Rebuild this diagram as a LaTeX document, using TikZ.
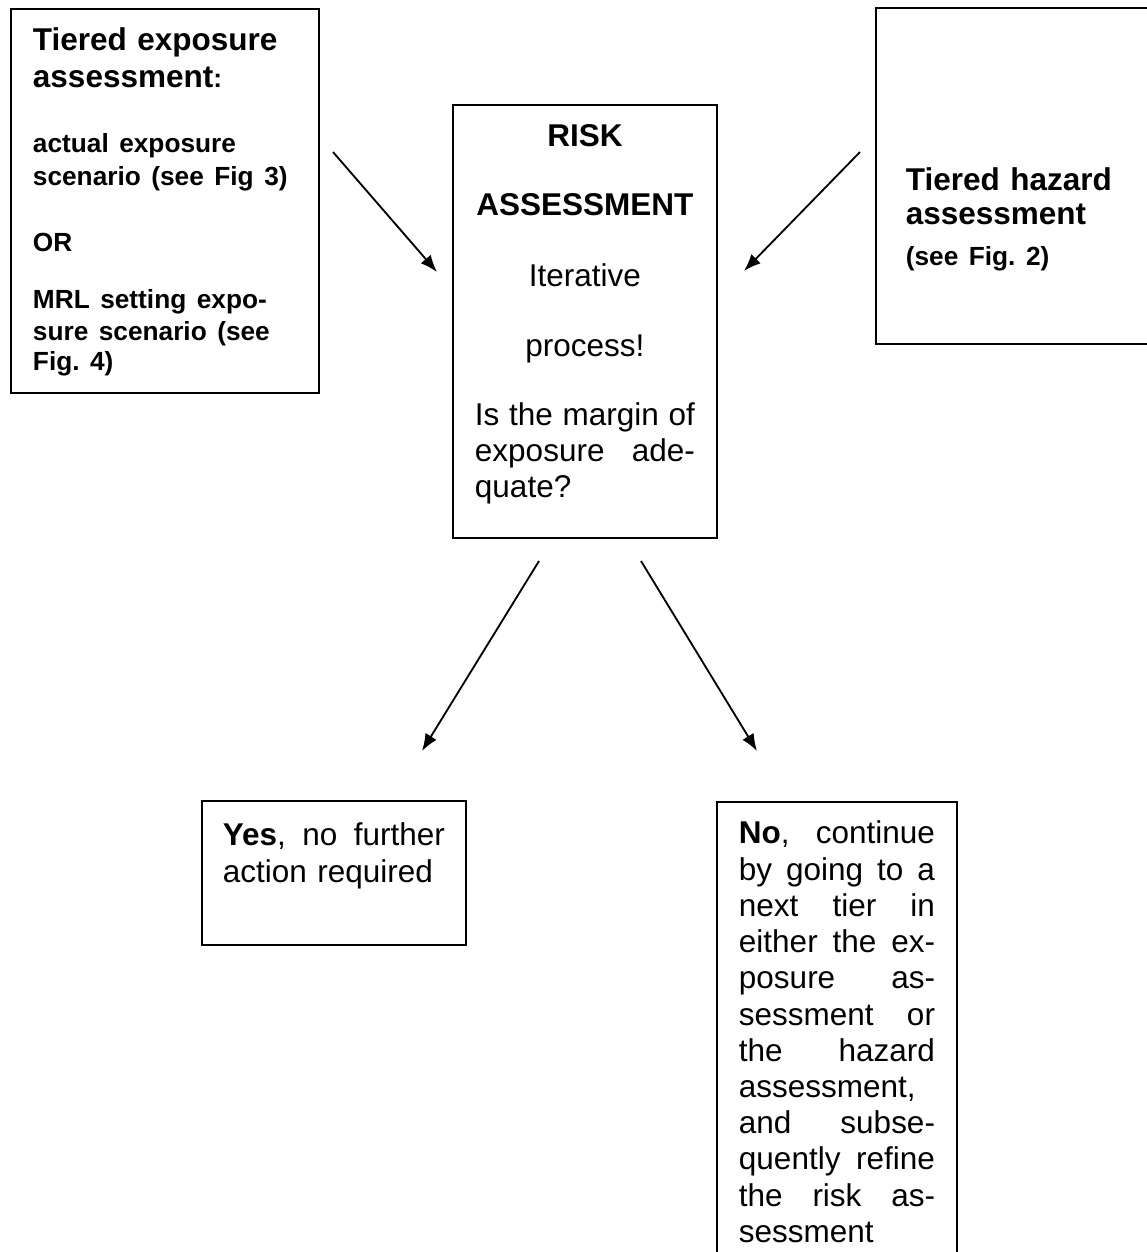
\documentclass[tikz,border=0pt]{standalone}
\usepackage{fontspec}
\setmainfont{Liberation Sans}
\usepackage{tikz}
\usetikzlibrary{shapes.geometric, arrows, arrows.meta}
\newcommand{\fillline}[1]{\makebox[\hsize][s]{\spaceskip=\fontdimen2\font plus 1fil\relax #1}}
\newcommand{\lastline}[1]{\makebox[\hsize][l]{#1}}
\newcommand{\smallbf}{\fontsize{10}{13.8}\selectfont\bfseries}
\tikzstyle{block} = [rectangle, draw, line width=0.7pt, anchor=north west, inner ysep=0pt, align=left, font=\fontsize{12}{13.8}\selectfont\frenchspacing]
\tikzstyle{line} = [draw, line width=0.7pt, ->, >={Latex[length=6.5pt,width=5pt]}]

\begin{document}
\begin{tikzpicture}[x=0.381pt, y=-0.381pt]

\useasboundingbox (0,0) rectangle (1147,1252);
\clip (0,0) rectangle (1147,1252);

\node [block, text width=100.6pt, inner xsep=8.4pt, text height=16pt, text depth=130.3pt] (E) at (10,8)
  {\textbf{Tiered exposure\\ assessment{\smallbf :}}\\[11pt]
   {\smallbf actual exposure\\[-1.2pt] scenario (see Fig 3)\\[11.3pt] OR\\[7.9pt]
    MRL setting expo-\\[-1.6pt] sure scenario (see\\[-2.2pt] Fig. 4)}};
\node [block, align=center, text width=83.8pt, inner xsep=8.4pt, text height=16pt, text depth=149pt] (R) at (452,104)
  {\textbf{RISK}\\[12.5pt] \textbf{ASSESSMENT}\\[12.9pt] Iterative\\[12.9pt] process!\\[12.5pt]
   \fillline{Is the margin of}\\ \fillline{exposure ade-}\\ \lastline{quate?}};
\node [block, text width=99pt, inner xsep=11.4pt, text height=69.7pt, text depth=58.3pt] (H) at (875,7)
  {\textbf{Tiered hazard\\[-0.8pt] assessment}\\[1.6pt] {\smallbf (see Fig. 2)}};
\node [block, text width=84.6pt, inner xsep=8pt, text height=16.8pt, text depth=38.1pt] (Y) at (201,800)
  {\fillline{\textbf{Yes}, no further}\\[0.3pt] action required};
\node [block, text width=74.7pt, inner xsep=8.4pt, text height=16pt, text depth=180pt] (N) at (716,801)
  {\fillline{\textbf{No}, continue}\\ \fillline{by going to a}\\ \fillline{next tier in}\\
   \fillline{either the ex-}\\ \fillline{posure as-}\\ \fillline{sessment or}\\
   \fillline{the hazard}\\ assessment,\\ \fillline{and subse-}\\
   \fillline{quently refine}\\ \fillline{the risk as-}\\ sessment};

\coordinate (0) at (333,152);
\coordinate (1) at (437,272);
\coordinate (2) at (860,152);
\coordinate (3) at (744,271);
\coordinate (4) at (539,561);
\coordinate (5) at (422,751);
\coordinate (6) at (641,561);
\coordinate (7) at (757,751);

\path [line] (0) -- (1);
\path [line] (2) -- (3);
\path [line] (4) -- (5);
\path [line] (6) -- (7);

\end{tikzpicture}
\end{document}
